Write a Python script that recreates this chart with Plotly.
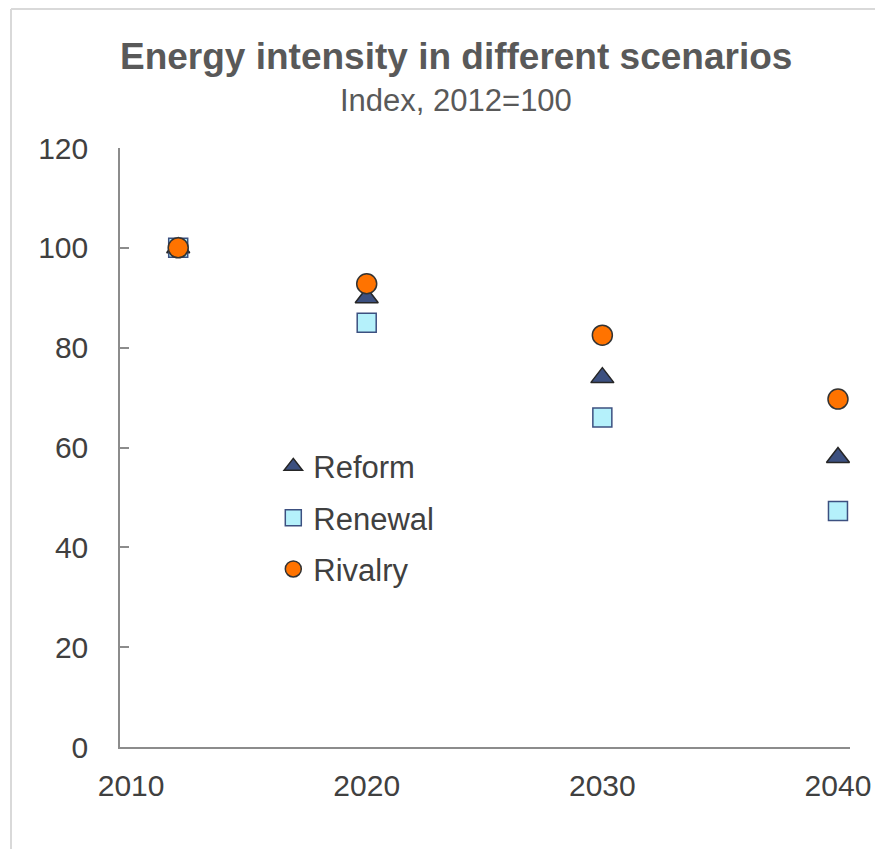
import plotly.graph_objects as go

years = [2012, 2020, 2030, 2040]
reform = [100, 90, 74, 58]
renewal = [100, 85, 66, 47.3]
rivalry = [100, 92.8, 82.5, 69.7]
x_ticks = [2010, 2020, 2030, 2040]
y_ticks = [0, 20, 40, 60, 80, 100, 120]

fig = go.Figure()
fig.add_trace(go.Scatter(x=years, y=reform, mode="markers", name="Reform",
                         marker=dict(symbol="triangle-up", size=20, color="#3C5080",
                                     line=dict(color="#262626", width=1.5))))
fig.add_trace(go.Scatter(x=years, y=renewal, mode="markers", name="Renewal",
                         marker=dict(symbol="square", size=19, color="#B5F1FB",
                                     line=dict(color="#3C5080", width=1.5))))
fig.add_trace(go.Scatter(x=years, y=rivalry, mode="markers", name="Rivalry",
                         marker=dict(symbol="circle", size=20, color="#FF7300",
                                     line=dict(color="#333333", width=1.5))))

FONT = "Liberation Sans, Arial, sans-serif"
axis_font = dict(family=FONT, size=30, color="#404040")

# the page body has an 8px margin, so figure coordinates are offset by 8px
fig.update_layout(
    width=875, height=841,
    margin=dict(l=112, r=33, t=140, b=102),
    paper_bgcolor="white", plot_bgcolor="white",
    showlegend=True,
    legend=dict(x=0.21, y=0.513, xanchor="left", yanchor="top",
                font=dict(family=FONT, size=31, color="#404040"),
                bgcolor="rgba(0,0,0,0)", tracegroupgap=8, itemwidth=30),
    xaxis=dict(range=[2009.53, 2040.51], tickvals=x_ticks, ticktext=[str(v) for v in x_ticks],
               showgrid=False, zeroline=False, showline=True, linecolor="#8c8c8c", linewidth=1.5,
               ticks="", tickfont=axis_font, ticklabelstandoff=11),
    yaxis=dict(range=[0, 120], tickvals=y_ticks, showgrid=False, zeroline=False,
               showline=True, linecolor="#8c8c8c", linewidth=1.5,
               ticks="inside", ticklen=9, tickcolor="#8c8c8c", tickwidth=1.5,
               tickfont=axis_font, ticklabelstandoff=24),
    annotations=[
        dict(text="<b>Energy intensity in different scenarios</b>", xref="paper", yref="paper",
             x=0.46, y=(747 - 57) / 599, xanchor="center", yanchor="middle", showarrow=False,
             font=dict(family=FONT, size=37, color="#595959")),
        dict(text="Index, 2012=100", xref="paper", yref="paper",
             x=0.46, y=(747 - 100) / 599, xanchor="center", yanchor="middle", showarrow=False,
             font=dict(family=FONT, size=31, color="#595959")),
    ],
    shapes=[
        dict(type="line", xref="paper", yref="paper", x0=(11 - 120) / 730, x1=(11 - 120) / 730,
             y0=(747 - 860) / 599, y1=(747 - 9) / 599, line=dict(color="#d9d9d9", width=2)),
        dict(type="line", xref="paper", yref="paper", x0=(11 - 120) / 730, x1=(900 - 120) / 730,
             y0=(747 - 9) / 599, y1=(747 - 9) / 599, line=dict(color="#d9d9d9", width=2)),
    ],
)
for i, tr in enumerate(fig.data):
    tr.legendgroup = f"g{i}"

fig.write_html("out.html")
